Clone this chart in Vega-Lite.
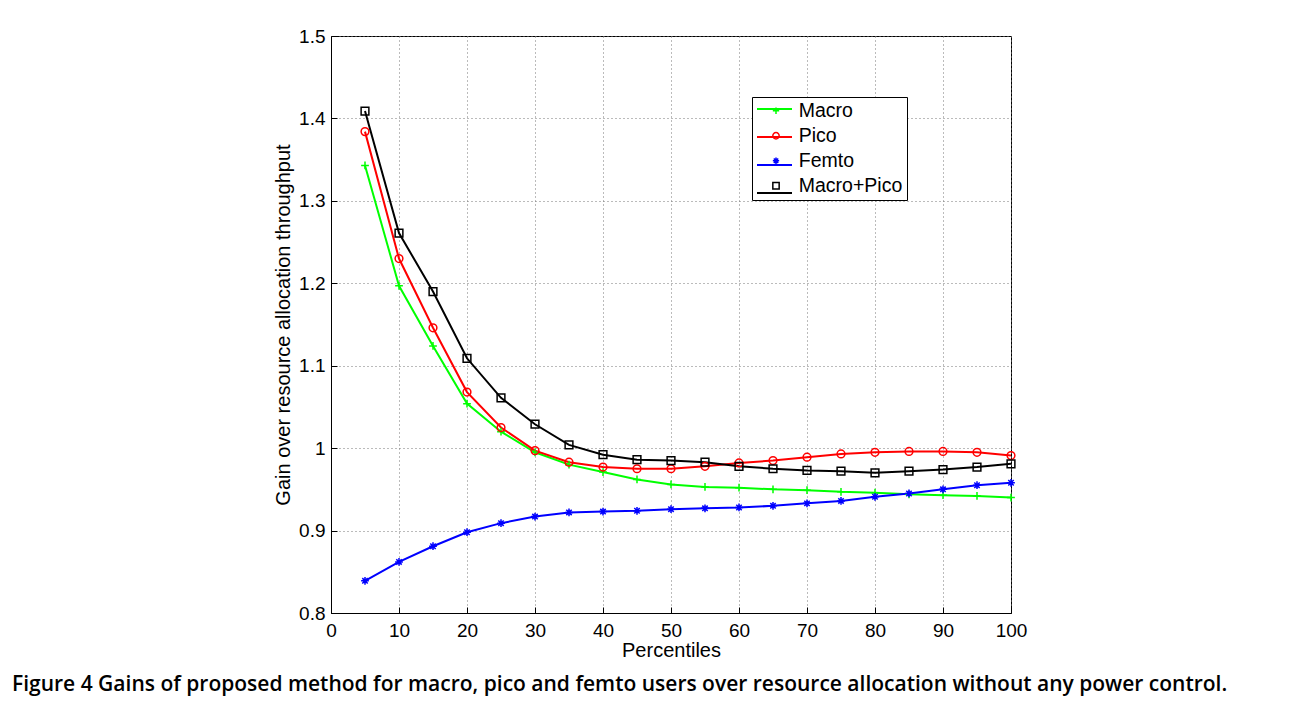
{
  "$schema": "https://vega.github.io/schema/vega-lite/v6.json",
  "width": 680,
  "height": 577,
  "autosize": {"type": "none"},
  "padding": {"left": 331, "top": 36, "right": 280, "bottom": 92},
  "background": "white",
  "config": {
    "view": {"stroke": "black", "strokeWidth": 1},
    "font": "Liberation Sans",
    "axis": {
      "domainColor": "black",
      "tickColor": "black",
      "labelColor": "black",
      "titleColor": "black",
      "labelFont": "Liberation Sans",
      "titleFont": "Liberation Sans",
      "labelFontSize": 19,
      "titleFontSize": 20,
      "titleFontWeight": "normal",
      "labelFlush": false,
      "grid": true,
      "gridColor": "#777777",
      "gridDash": [1, 3],
      "gridWidth": 1,
      "tickSize": -6,
      "tickWidth": 1
    }
  },
  "title": {
    "text": "Figure 4 Gains of proposed method for macro, pico and femto users over resource allocation without any power control.",
    "orient": "bottom",
    "anchor": "start",
    "frame": "group",
    "dx": -319,
    "offset": 14,
    "font": "Open Sans",
    "fontSize": 21,
    "fontWeight": 600,
    "color": "black"
  },
  "data": {
    "values": [
      {"p": 5, "series": "Macro", "v": 1.343}, {"p": 10, "series": "Macro", "v": 1.197}, {"p": 15, "series": "Macro", "v": 1.124}, {"p": 20, "series": "Macro", "v": 1.054}, {"p": 25, "series": "Macro", "v": 1.020}, {"p": 30, "series": "Macro", "v": 0.995}, {"p": 35, "series": "Macro", "v": 0.980}, {"p": 40, "series": "Macro", "v": 0.971}, {"p": 45, "series": "Macro", "v": 0.962}, {"p": 50, "series": "Macro", "v": 0.956}, {"p": 55, "series": "Macro", "v": 0.953}, {"p": 60, "series": "Macro", "v": 0.952}, {"p": 65, "series": "Macro", "v": 0.950}, {"p": 70, "series": "Macro", "v": 0.949}, {"p": 75, "series": "Macro", "v": 0.947}, {"p": 80, "series": "Macro", "v": 0.946}, {"p": 85, "series": "Macro", "v": 0.944}, {"p": 90, "series": "Macro", "v": 0.943}, {"p": 95, "series": "Macro", "v": 0.942}, {"p": 100, "series": "Macro", "v": 0.940},
      {"p": 5, "series": "Pico", "v": 1.384}, {"p": 10, "series": "Pico", "v": 1.230}, {"p": 15, "series": "Pico", "v": 1.146}, {"p": 20, "series": "Pico", "v": 1.068}, {"p": 25, "series": "Pico", "v": 1.025}, {"p": 30, "series": "Pico", "v": 0.997}, {"p": 35, "series": "Pico", "v": 0.983}, {"p": 40, "series": "Pico", "v": 0.977}, {"p": 45, "series": "Pico", "v": 0.975}, {"p": 50, "series": "Pico", "v": 0.975}, {"p": 55, "series": "Pico", "v": 0.978}, {"p": 60, "series": "Pico", "v": 0.982}, {"p": 65, "series": "Pico", "v": 0.985}, {"p": 70, "series": "Pico", "v": 0.989}, {"p": 75, "series": "Pico", "v": 0.993}, {"p": 80, "series": "Pico", "v": 0.995}, {"p": 85, "series": "Pico", "v": 0.996}, {"p": 90, "series": "Pico", "v": 0.996}, {"p": 95, "series": "Pico", "v": 0.995}, {"p": 100, "series": "Pico", "v": 0.991},
      {"p": 5, "series": "Femto", "v": 0.839}, {"p": 10, "series": "Femto", "v": 0.862}, {"p": 15, "series": "Femto", "v": 0.881}, {"p": 20, "series": "Femto", "v": 0.898}, {"p": 25, "series": "Femto", "v": 0.909}, {"p": 30, "series": "Femto", "v": 0.917}, {"p": 35, "series": "Femto", "v": 0.922}, {"p": 40, "series": "Femto", "v": 0.923}, {"p": 45, "series": "Femto", "v": 0.924}, {"p": 50, "series": "Femto", "v": 0.926}, {"p": 55, "series": "Femto", "v": 0.927}, {"p": 60, "series": "Femto", "v": 0.928}, {"p": 65, "series": "Femto", "v": 0.930}, {"p": 70, "series": "Femto", "v": 0.933}, {"p": 75, "series": "Femto", "v": 0.936}, {"p": 80, "series": "Femto", "v": 0.941}, {"p": 85, "series": "Femto", "v": 0.945}, {"p": 90, "series": "Femto", "v": 0.950}, {"p": 95, "series": "Femto", "v": 0.955}, {"p": 100, "series": "Femto", "v": 0.958},
      {"p": 5, "series": "Macro+Pico", "v": 1.409}, {"p": 10, "series": "Macro+Pico", "v": 1.261}, {"p": 15, "series": "Macro+Pico", "v": 1.190}, {"p": 20, "series": "Macro+Pico", "v": 1.109}, {"p": 25, "series": "Macro+Pico", "v": 1.061}, {"p": 30, "series": "Macro+Pico", "v": 1.029}, {"p": 35, "series": "Macro+Pico", "v": 1.004}, {"p": 40, "series": "Macro+Pico", "v": 0.992}, {"p": 45, "series": "Macro+Pico", "v": 0.986}, {"p": 50, "series": "Macro+Pico", "v": 0.985}, {"p": 55, "series": "Macro+Pico", "v": 0.983}, {"p": 60, "series": "Macro+Pico", "v": 0.978}, {"p": 65, "series": "Macro+Pico", "v": 0.975}, {"p": 70, "series": "Macro+Pico", "v": 0.973}, {"p": 75, "series": "Macro+Pico", "v": 0.972}, {"p": 80, "series": "Macro+Pico", "v": 0.970}, {"p": 85, "series": "Macro+Pico", "v": 0.972}, {"p": 90, "series": "Macro+Pico", "v": 0.974}, {"p": 95, "series": "Macro+Pico", "v": 0.977}, {"p": 100, "series": "Macro+Pico", "v": 0.981}
    ]
  },
  "encoding": {
    "x": {
      "field": "p",
      "type": "quantitative",
      "scale": {"domain": [0, 100], "nice": false, "zero": false},
      "axis": {"values": [0, 10, 20, 30, 40, 50, 60, 70, 80, 90, 100], "title": "Percentiles", "labelPadding": 14, "titlePadding": 0}
    },
    "y": {
      "field": "v",
      "type": "quantitative",
      "scale": {"domain": [0.8, 1.5], "nice": false, "zero": false},
      "axis": {"values": [0.8, 0.9, 1.0, 1.1, 1.2, 1.3, 1.4, 1.5], "format": ".1~f", "title": "Gain over resource allocation throughput", "labelPadding": 12, "titlePadding": 5}
    }
  },
  "layer": [
    {
      "mark": {"type": "line", "strokeWidth": 2},
      "encoding": {
        "stroke": {
          "field": "series",
          "type": "nominal",
          "scale": {"domain": ["Pico", "Macro", "Femto", "Macro+Pico"], "range": ["#ff0000", "#00ff00", "#0000ff", "#000000"]},
          "legend": {
            "title": null,
            "orient": "none",
            "legendX": 425,
            "legendY": 54.5,
            "values": ["Macro", "Pico", "Femto", "Macro+Pico"],
            "symbolType": "stroke",
            "symbolSize": 1225,
            "symbolStrokeWidth": 2,
            "labelExpr": "''",
            "labelFontSize": 19.5,
            "labelOffset": 0,
            "padding": 0,
            "rowPadding": -3,
            "zindex": 1
          }
        }
      }
    },
    {
      "mark": {"type": "point", "filled": false, "strokeWidth": 1.5, "size": 60, "opacity": 1},
      "encoding": {
        "color": {
          "field": "series",
          "type": "nominal",
          "scale": {"domain": ["Macro", "Pico", "Femto", "Macro+Pico"], "range": ["#00ff00", "#ff0000", "#0000ff", "#000000"]},
          "legend": {
            "title": null,
            "orient": "none",
            "legendX": 421,
            "legendY": 61,
            "symbolSize": 40,
            "symbolStrokeWidth": 1.5,
            "symbolOffset": 10.25,
            "labelFontSize": 19.5,
            "labelFont": "Liberation Sans",
            "labelColor": "black",
            "labelOffset": 13,
            "fillColor": "white",
            "strokeColor": "black",
            "padding": 4,
            "rowPadding": 4,
            "zindex": 0
          }
        },
        "shape": {
          "field": "series",
          "type": "nominal",
          "scale": {"domain": ["Macro", "Pico", "Femto", "Macro+Pico"], "range": ["M-1,0L1,0M0,-1L0,1", "circle", "M-1,0L1,0M0,-1L0,1M-0.7,-0.7L0.7,0.7M-0.7,0.7L0.7,-0.7", "square"]},
          "legend": {
            "title": null,
            "orient": "none",
            "legendX": 421,
            "legendY": 61,
            "symbolSize": 40,
            "symbolStrokeWidth": 1.5,
            "symbolOffset": 10.25,
            "labelFontSize": 19.5,
            "labelFont": "Liberation Sans",
            "labelColor": "black",
            "labelOffset": 13,
            "fillColor": "white",
            "strokeColor": "black",
            "padding": 4,
            "rowPadding": 4,
            "zindex": 0
          }
        }
      }
    }
  ]
}
